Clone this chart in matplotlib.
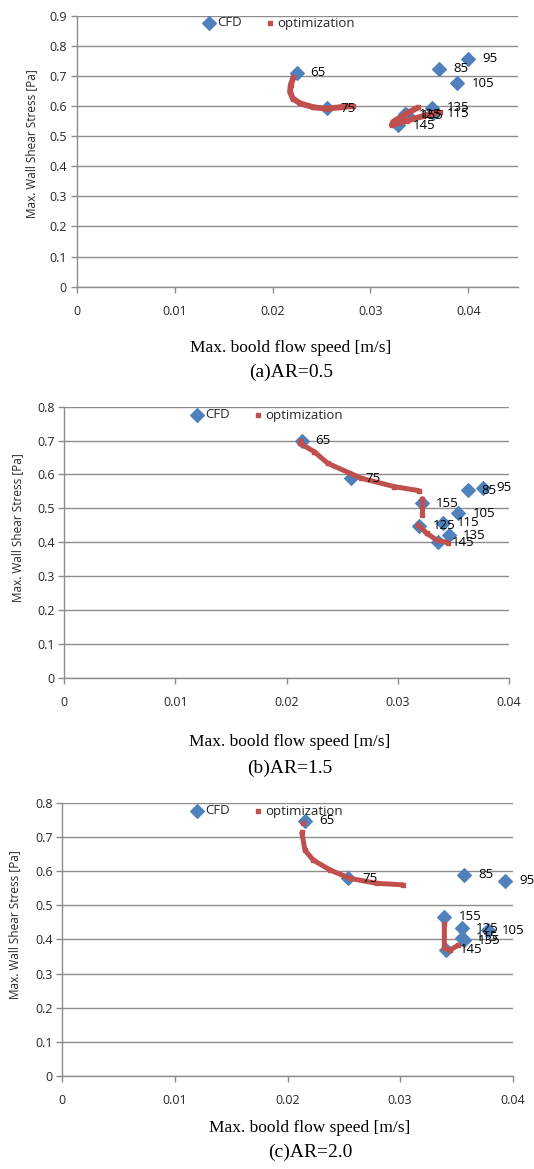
import numpy as np
import matplotlib
matplotlib.use("Agg")
import matplotlib.pyplot as plt

plt.rcParams['font.family'] = ['Open Sans', 'DejaVu Sans']

# ---------------- data ----------------
cfd_labels = ["65", "75", "85", "95", "105", "115", "125", "135", "145", "155"]

# (a) AR=0.5
a_cfd_x = [0.02247, 0.02553, 0.03704, 0.0400, 0.03888, 0.03636, 0.03353, 0.03632, 0.03285, 0.0337]
a_cfd_y = [0.711, 0.592, 0.723, 0.757, 0.675, 0.576, 0.573, 0.594, 0.537, 0.570]
a_opt1_x = [0.02213, 0.02186, 0.02179, 0.02206, 0.02281, 0.02417, 0.02553, 0.02689, 0.02826]
a_opt1_y = [0.695, 0.670, 0.648, 0.625, 0.609, 0.596, 0.591, 0.596, 0.600]
a_opt2_x = [0.03489, 0.0337, 0.03234, 0.03217, 0.0337, 0.0354, 0.03711]
a_opt2_y = [0.5956, 0.5757, 0.548, 0.537, 0.551, 0.567, 0.581]

# (b) AR=1.5
b_cfd_x = [0.02135, 0.02579, 0.03628, 0.03763, 0.03544, 0.03409, 0.03193, 0.03460, 0.03364, 0.0322]
b_cfd_y = [0.700, 0.589, 0.554, 0.561, 0.485, 0.458, 0.448, 0.421, 0.400, 0.515]
b_opt1_x = [0.0213, 0.0212, 0.02249, 0.02369, 0.02669, 0.02969, 0.03193]
b_opt1_y = [0.700, 0.692, 0.667, 0.633, 0.589, 0.564, 0.552]
b_opt2_x = [0.03214, 0.03214]
b_opt2_y = [0.529, 0.480]
b_opt3_x = [0.03184, 0.0326, 0.0335, 0.03454]
b_opt3_y = [0.451, 0.426, 0.4065, 0.3985]

# (c) AR=2.0
c_cfd_x = [0.02155, 0.0254, 0.03571, 0.03932, 0.0378, 0.0355, 0.0355, 0.0357, 0.0341, 0.03393]
c_cfd_y = [0.747, 0.5785, 0.589, 0.572, 0.426, 0.405, 0.432, 0.398, 0.369, 0.466]
c_opt1_x = [0.0214]
c_opt1_y = [0.740]
c_opt2_x = [0.02126, 0.02155, 0.02229, 0.02378, 0.02555, 0.02792, 0.03029]
c_opt2_y = [0.715, 0.661, 0.632, 0.603, 0.5785, 0.564, 0.5595]
c_opt3_x = [0.03393, 0.03393, 0.03443, 0.03517]
c_opt3_y = [0.445, 0.374, 0.369, 0.383]

x_ticks = [0, 0.01, 0.02, 0.03, 0.04]
x_ticklabels = ["0", "0.01", "0.02", "0.03", "0.04"]
captions = ["(a)AR=0.5", "(b)AR=1.5", "(c)AR=2.0"]
xlabel_text = "Max. boold flow speed [m/s]"
ylabel_text = "Max. Wall Shear Stress [Pa]"

BLUE = "#4F81BD"
RED = "#C0504D"
GRID = "#8C8C8C"
TXT = "#262626"

W, H = 534, 1169
fig = plt.figure(figsize=(W / 100, H / 100), dpi=100)

def px_axes(x0, x1, ytop, ybot):
    return fig.add_axes([x0 / W, 1 - ybot / H, (x1 - x0) / W, (ybot - ytop) / H])

panels = [
    dict(box=(76.7, 518.3, 15.7, 286.7), xlim=0.0451, ymax=0.9, lw=4.2,
         cfd=(a_cfd_x, a_cfd_y), opt=[(a_opt1_x, a_opt1_y), (a_opt2_x, a_opt2_y)],
         ylab=(32, 143.5), xlab=348, cap=372, labx=291, leg=(279, 23)),
    dict(box=(64.3, 509.0, 406.7, 677.7), xlim=0.04, ymax=0.8, lw=3.6,
         cfd=(b_cfd_x, b_cfd_y), opt=[(b_opt1_x, b_opt1_y), (b_opt2_x, b_opt2_y), (b_opt3_x, b_opt3_y)],
         ylab=(18, 528), xlab=742, cap=768, labx=290, leg=(267, 415)),
    dict(box=(62.3, 512.7, 802.7, 1076.0), xlim=0.04, ymax=0.8, lw=3.6,
         cfd=(c_cfd_x, c_cfd_y), opt=[(c_opt1_x, c_opt1_y), (c_opt2_x, c_opt2_y), (c_opt3_x, c_opt3_y)],
         ylab=(15, 925), xlab=1128, cap=1152, labx=310, leg=(267, 811)),
]

for i, p in enumerate(panels):
    ax = px_axes(*p["box"])
    ax.set_xlim(0, p["xlim"])
    ax.set_ylim(0, p["ymax"])
    ax.set_xticks(x_ticks)
    ax.set_xticklabels(x_ticklabels)
    yt = np.round(np.arange(0, p["ymax"] + 0.001, 0.1), 1)
    ax.set_yticks(yt)
    ax.set_yticklabels(["0" if v == 0 else f"{v:.1f}" for v in yt])
    ax.grid(axis="y", color=GRID, lw=1.0)
    ax.set_axisbelow(True)
    for s in ["top", "right"]:
        ax.spines[s].set_visible(False)
    for s in ["left", "bottom"]:
        ax.spines[s].set_color(GRID)
        ax.spines[s].set_linewidth(1.0)
    ax.tick_params(axis="both", colors=GRID, labelcolor=TXT, labelsize=9, length=4, width=1)
    ax.tick_params(axis="x", pad=9)
    ax.tick_params(axis="y", pad=3)

    cx, cy = p["cfd"]
    ax.scatter(cx, cy, marker="D", s=48, color=BLUE, zorder=3, label="CFD", clip_on=False)
    first = True
    for ox, oy in p["opt"]:
        ax.plot(ox, oy, color=RED, lw=p["lw"], solid_capstyle="butt", solid_joinstyle="round", zorder=4)
        ax.scatter(ox, oy, marker="s", s=10, color=RED, zorder=4,
                   label="optimization" if first else "_nolegend_")
        first = False
    for lab, x, y in zip(cfd_labels, cx, cy):
        ax.annotate(lab, (x, y), xytext=(14, 0), textcoords="offset pixels",
                    ha="left", va="center", fontsize=9.5, color="black",
                    zorder=5, annotation_clip=False)

    lx, ly = p["leg"]
    ax.legend(loc="center", bbox_to_anchor=(lx / W, 1 - ly / H), bbox_transform=fig.transFigure,
              ncol=2, frameon=False, fontsize=9.5, scatterpoints=1, handletextpad=0.1,
              columnspacing=1.6, handlelength=1.0, borderaxespad=0, labelcolor=TXT)

    yx, yy = p["ylab"]
    fig.text(yx / W, 1 - yy / H, ylabel_text, rotation=90, ha="center", va="center",
             fontsize=8.5, color=TXT)
    fig.text(p["labx"] / W, 1 - p["xlab"] / H, xlabel_text, ha="center", va="center",
             fontsize=12.5, family=["Liberation Serif", "DejaVu Serif"], color="black")
    fig.text(p["labx"] / W, 1 - p["cap"] / H, captions[i], ha="center", va="center",
             fontsize=14, family=["Liberation Serif", "DejaVu Serif"], color="black")

fig.savefig("out.png", dpi=100)
